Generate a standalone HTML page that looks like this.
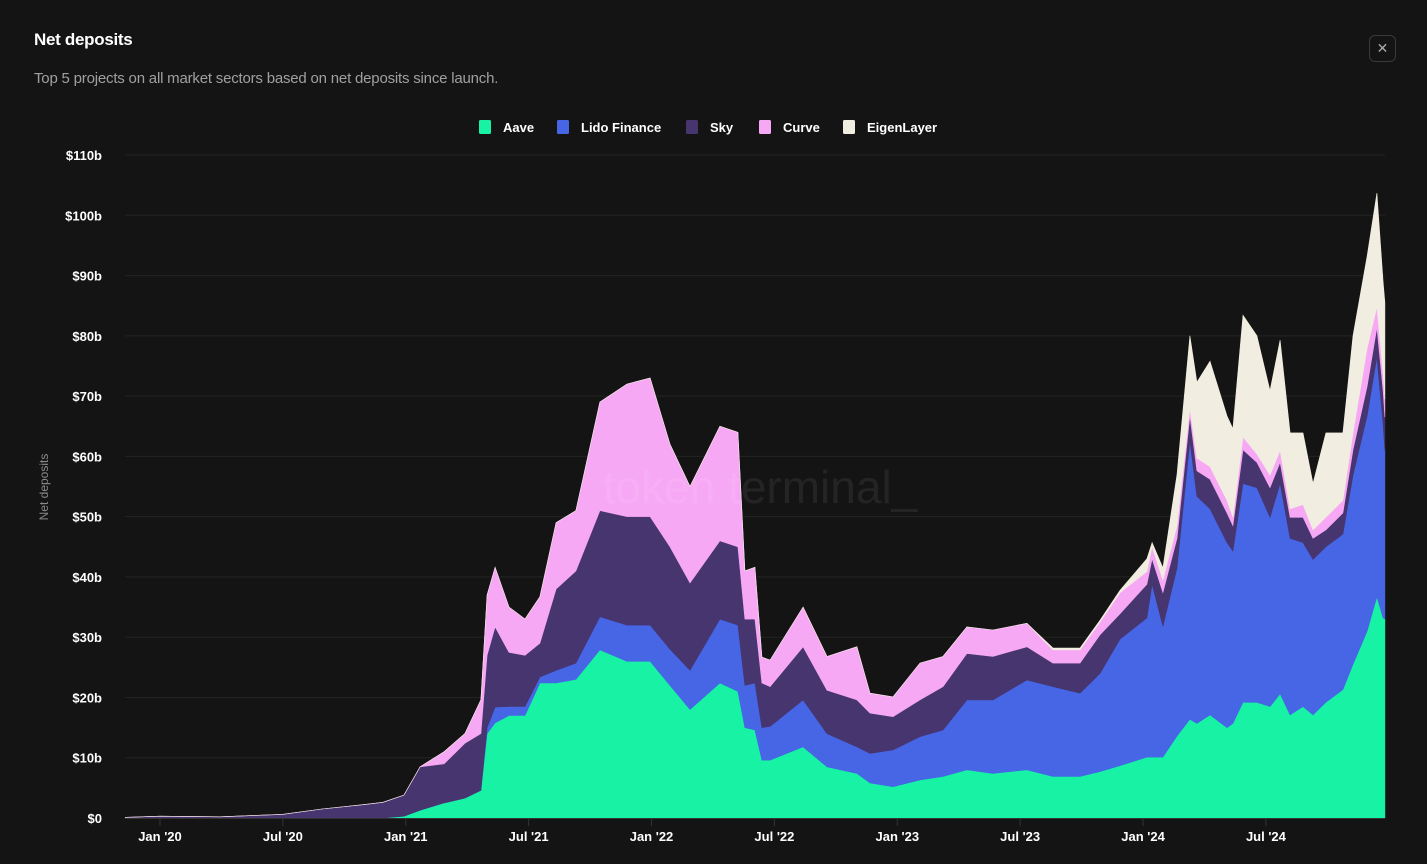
<!DOCTYPE html>
<html><head><meta charset="utf-8"><style>
html,body{margin:0;padding:0;background:#141414;}
body{width:1427px;height:864px;overflow:hidden;font-family:"Liberation Sans",sans-serif;position:relative;}
.title{position:absolute;left:34px;top:30px;color:#fff;font-size:17px;font-weight:bold;letter-spacing:-0.3px}
.sub{position:absolute;left:34px;top:70px;color:#a0a0a0;font-size:15px;letter-spacing:-0.2px}
.close{position:absolute;left:1369px;top:35px;width:25px;height:25px;border:1px solid #3a3a3a;border-radius:6px;color:#aaa;font-size:14px;text-align:center;line-height:24px}
</style></head><body>
<div class="title">Net deposits</div>
<div class="sub">Top 5 projects on all market sectors based on net deposits since launch.</div>
<div class="close">✕</div>
<svg id="chart" width="1427" height="864" style="position:absolute;left:0;top:0"></svg>
<script>
const months=[-1.71,0,2.93,5.96,7.91,9.91,10.89,11.91,12.70,13.87,14.89,15.67,15.97,16.36,17.04,17.82,18.55,19.34,20.31,21.48,22.80,23.93,24.90,25.88,27.34,28.22,28.56,29.05,29.39,29.79,31.40,32.57,34.03,34.67,35.79,37.11,38.23,39.40,40.67,42.33,43.60,44.92,45.90,46.88,48.19,48.44,48.97,49.66,50.29,50.63,51.27,52.10,52.39,52.88,53.56,54.20,54.69,55.18,55.81,56.30,56.93,57.76,58.25,58.94,59.42,59.72,59.81];
const aave=[0,0,0,0,0,0,0,0.3,1.3,2.5,3.3,4.6,14,15.8,17,17,22.4,22.4,23,27.9,26,26,22,18,22.4,21,15,14.6,9.6,9.6,11.8,8.5,7.4,5.8,5.2,6.3,6.9,8,7.4,8,6.9,6.9,7.7,8.7,10.1,10.1,10.1,13.6,16.4,15.7,17.1,15,15.7,19.2,19.2,18.5,20.6,17.1,18.5,17.1,19.2,21.3,25.5,31,36.7,33.2,33];
const lido=[0,0,0,0,0,0,0,0,0,0,0,0,1,2.6,1.5,1.5,1,2.1,2.7,5.5,6,6,6,6.5,10.6,11,7,7.8,5.4,5.6,7.8,5.5,4.4,4.9,6.1,7.2,7.7,11.6,12.2,14.9,14.9,13.8,16.3,21,23.1,28.7,21.7,27.9,46.1,37.7,34.2,30.7,28.6,36.3,35.6,31.4,34.9,29.3,27.2,25.8,25.8,25.8,31.4,35.7,39.8,32.1,28];
const sky=[0.1,0.3,0.2,0.6,1.5,2.2,2.6,3.5,7.2,6.5,9.1,9.4,12,13.3,9,8.5,5.6,13.5,15.3,17.6,18,18,17,14.5,13,13,11,10.6,7.4,6.6,8.8,7.2,7.8,6.7,5.5,6.1,7.2,7.7,7.2,5.5,3.9,5,6.4,4.2,5.6,4.2,5.6,4.9,4.2,4.2,4.9,4.9,4.2,5.6,4.2,4.9,3.5,3.5,4.2,3.5,2.8,3.5,4.2,4.9,4.9,5.6,5.5];
const curve=[0,0,0,0,0,0,0,0,0,2,1.6,5.6,10,9.9,7.5,6,7.7,11,10,18,22,23,17,16,19,19,8,8.6,4.3,4.4,6.6,5.6,8.8,3.3,3.3,6.1,5,4.4,4.4,3.9,2.2,2.2,2.1,3.5,2.1,2,2.1,2.1,1.3,2.1,2.1,2.1,1.4,2.1,1.4,2.1,2,1.4,2.1,1.4,2.1,2.1,2.8,6.3,3.4,2.8,3];
const eigen=[0,0,0,0,0,0,0,0,0,0,0,0,0,0,0,0,0,0,0,0,0,0,0,0,0,0,0,0,0,0,0,0,0,0,0,0,0,0,0,0,0.3,0.3,0.3,0.4,2.1,0.7,2,8.5,12,12.6,17.5,14,14.7,20.2,19.6,14,18.3,12.6,11.9,7.7,14,11.2,16.1,15.3,18.9,15.3,16];
const yTicks=[0,10,20,30,40,50,60,70,80,90,100,110];
const xTickMonths=[0,6,12,18,24,30,36,42,48,54];
const xTickLabels=["Jan '20","Jul '20","Jan '21","Jul '21","Jan '22","Jul '22","Jan '23","Jul '23","Jan '24","Jul '24"];
const seriesNames=["Aave","Lido Finance","Sky","Curve","EigenLayer"];
const seriesColors=["#17f2a5","#4666e5","#473570","#f7a8f5","#f1ede0"];

const NS="http://www.w3.org/2000/svg";
const svg=document.getElementById('chart');
const X=m=>160+m*20.48;
const Y=v=>818-v*6.027;
function mk(t,a,p){const e=document.createElementNS(NS,t);for(const k in a)e.setAttribute(k,a[k]);(p||svg).appendChild(e);return e;}

yTicks.forEach(v=>{
  const g=mk('line',{x1:125,x2:1385,y1:Y(v),y2:Y(v),stroke:'#232323','stroke-width':1});
  
  
  const t=mk('text',{x:102,y:Y(v)+5,'text-anchor':'end',fill:'#fff','font-size':13,'font-weight':'bold'});
  t.textContent='$'+v+(v?'b':'');
  
  
});
const yt=mk('text',{x:48,y:487,transform:'rotate(-90 48 487)','text-anchor':'middle',fill:'#8a8a8a','font-size':12});
yt.textContent='Net deposits';



const series=[aave,lido,sky,curve,eigen];
const cum=months.map(()=>0);
series.forEach((s,si)=>{
  const lower=cum.slice();
  s.forEach((v,i)=>cum[i]+=v);
  let d='M'+months.map((m,i)=>X(m).toFixed(1)+','+Y(cum[i]).toFixed(1)).join('L');
  for(let i=months.length-1;i>=0;i--)d+='L'+X(months[i]).toFixed(1)+','+Y(lower[i]).toFixed(1);
  const p=mk('path',{d:d+'Z',fill:seriesColors[si],'stroke':seriesColors[si],'stroke-width':0.6});
  
  
});
const base=mk('line',{x1:125,x2:1385,y1:818.5,y2:818.5,stroke:'#333','stroke-width':1});



xTickMonths.forEach((m,i)=>{
  const tk=mk('line',{x1:X(m),x2:X(m),y1:819,y2:826,stroke:'#333'});
  
  
  const t=mk('text',{x:X(m),y:841,'text-anchor':'middle',fill:'#fff','font-size':13,'font-weight':'bold'});
  t.textContent=xTickLabels[i];
  
  
});

const wm=mk('text',{x:760,y:503,'text-anchor':'middle',fill:'#fff','fill-opacity':0.07,'font-size':46});
wm.textContent='token terminal_';



const lx=[479,557,686,759,843];
seriesNames.forEach((n,i)=>{
  const r=mk('rect',{x:lx[i],y:120,width:12,height:14,rx:1.5,fill:seriesColors[i]});
  
  
  const t=mk('text',{x:lx[i]+24,y:132,fill:'#fff','font-size':13,'font-weight':'bold'});
  t.textContent=n;
  
  
});
</script>
</body></html>
